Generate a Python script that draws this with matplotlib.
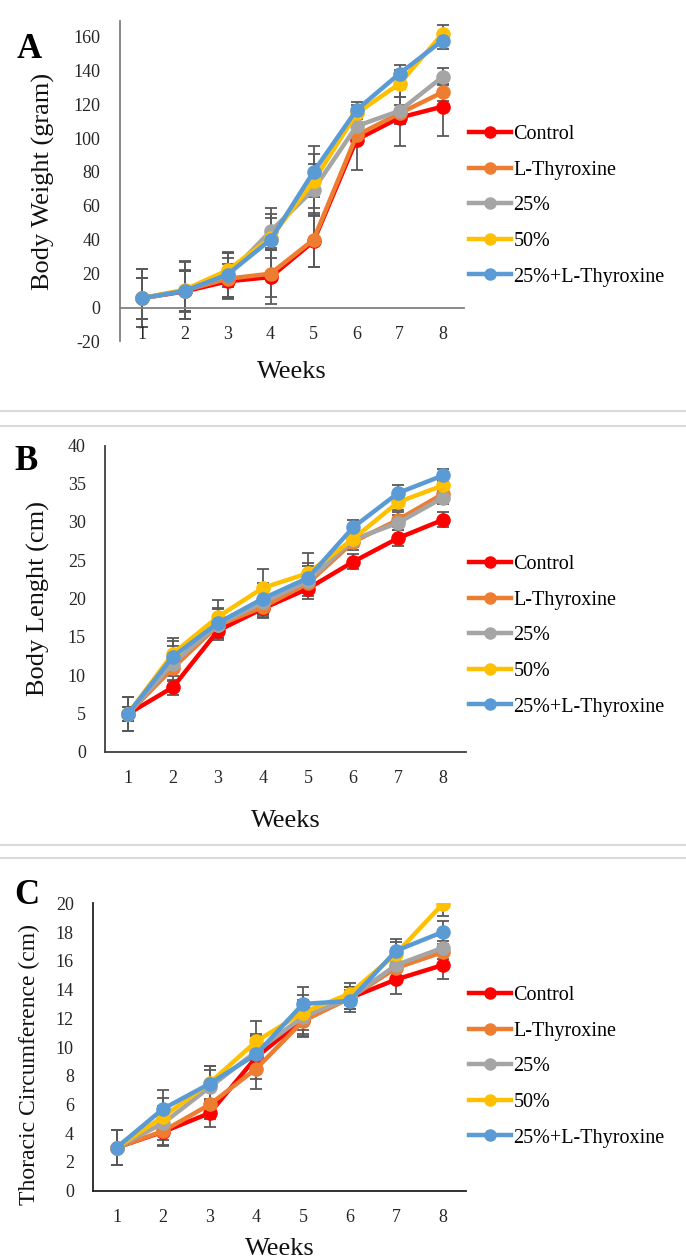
import matplotlib
matplotlib.use("Agg")
import matplotlib.pyplot as plt
from matplotlib.lines import Line2D

plt.rcParams["font.family"] = ["Liberation Serif", "DejaVu Serif"]
plt.rcParams["axes.unicode_minus"] = False

weeks = [1, 2, 3, 4, 5, 6, 7, 8]
groups = ["Control", "L-Thyroxine", "25%", "50%", "25%+L-Thyroxine"]
colors = ["#FF0000", "#ED7D31", "#A5A5A5", "#FFC000", "#5B9BD5"]

# A - peso corporal (g)
weight_control = [5.5, 9.5, 15.5, 18, 39, 99, 112, 118.5]
weight_lthyrox = [5.5, 10, 17, 20, 40, 101.5, 114.5, 127]
weight_25 = [5.5, 10, 19, 45, 69.5, 107, 116, 136]
weight_50 = [5.5, 10.5, 22, 41, 74.5, 114.5, 132, 161.5]
weight_25_lthyrox = [5.5, 9.8, 19.5, 40, 80, 116.5, 138, 157.5]
weight_err_control = [12, 12, 10, 16, 15, 18, 17, 17.5]
weight_err_lthyrox = [12, 12, 12, 14, 16, 5, 5, 5]
weight_err_25 = [17, 17, 13, 10, 15, 5, 8, 5]
weight_err_50 = [17, 17, 10, 12, 16, 5, 8, 5]
weight_err_25_lthyrox = [12, 12, 13, 19, 15, 5, 5, 5]

# B - longitud corporal (cm)
length_control = [4.9, 8.4, 15.8, 18.7, 21.3, 24.8, 27.9, 30.3]
length_lthyrox = [4.9, 10.9, 16.5, 18.9, 22.0, 27.4, 30.3, 33.7]
length_25 = [4.9, 11.5, 16.6, 19.5, 22.3, 27.7, 29.9, 33.2]
length_50 = [4.9, 12.8, 17.6, 21.4, 23.3, 27.8, 32.6, 34.8]
length_25_lthyrox = [4.9, 12.4, 16.8, 20.0, 22.7, 29.3, 33.8, 36.1]
length_err_control = [0.9, 1.0, 1.0, 1.1, 1.3, 1.0, 1.0, 1.0]
length_err_lthyrox = [0.9, 1.0, 1.0, 1.0, 1.0, 1.0, 1.0, 1.0]
length_err_25 = [2.2, 2.3, 2.0, 2.0, 2.0, 1.0, 1.0, 0.8]
length_err_50 = [2.2, 2.1, 2.2, 2.4, 2.6, 1.0, 1.0, 0.8]
length_err_25_lthyrox = [2.2, 2.0, 2.0, 2.0, 2.0, 1.0, 1.0, 0.8]

# C - circunferencia toracica (cm)
thorax_control = [3.0, 4.1, 5.4, 9.3, 11.9, 13.4, 14.7, 15.7]
thorax_lthyrox = [3.0, 4.15, 6.0, 8.5, 11.8, 13.4, 15.5, 16.6]
thorax_25 = [3.0, 4.7, 7.2, 9.7, 12.1, 13.4, 15.7, 16.9]
thorax_50 = [3.0, 5.15, 7.5, 10.4, 12.4, 13.7, 16.5, 19.95]
thorax_25_lthyrox = [3.0, 5.7, 7.45, 9.5, 13.0, 13.2, 16.7, 18.0]
thorax_err_control = [1.2, 1.0, 1.0, 1.5, 1.1, 0.75, 1.0, 1.0]
thorax_err_lthyrox = [1.2, 1.0, 1.0, 1.4, 1.1, 0.75, 0.8, 0.8]
thorax_err_25 = [1.2, 1.2, 1.2, 1.2, 1.2, 0.75, 0.8, 0.8]
thorax_err_50 = [1.2, 1.3, 1.2, 1.4, 1.2, 0.75, 0.8, 0.8]
thorax_err_25_lthyrox = [1.2, 1.3, 1.2, 1.3, 1.2, 0.75, 0.8, 0.8]

W, H = 686, 1260
fig = plt.figure(figsize=(W / 100, H / 100), dpi=100)


def px_axes(left, right, top, bottom):
    """Convierte un rectangulo en pixeles a coordenadas de figura."""
    return [left / W, 1 - bottom / H, (right - left) / W, (bottom - top) / H]


def panel(rect, series, errors, ylim, yticks, ylabel, ylabel_size, letter,
          letter_xy, ylabel_xy, weeks_y, legend_top, spine_color, zero_axis=False):
    ax = fig.add_axes(px_axes(*rect))
    for vals, err in zip(series, errors):
        ax.errorbar(weeks, vals, yerr=err, fmt="none", ecolor="#595959",
                    elinewidth=1.3, capsize=4, capthick=1.3, zorder=1)
    for vals, col, name in zip(series, colors, groups):
        ax.plot(weeks, vals, color=col, lw=3.2, marker="o", ms=9.5,
                label=name, zorder=3)

    ax.set_xlim(0.5, 8.5)
    ax.set_ylim(*ylim)
    ax.set_xticks(weeks)
    ax.set_yticks(yticks)
    ax.tick_params(length=0, labelsize=13, colors="#262626")
    ax.tick_params(axis="y", pad=14)
    ax.tick_params(axis="x", pad=13)
    for s in ["top", "right"]:
        ax.spines[s].set_visible(False)
    for s in ["left", "bottom"]:
        ax.spines[s].set_color(spine_color)
        ax.spines[s].set_linewidth(1.3)
    if zero_axis:
        ax.spines["bottom"].set_position(("data", 0))

    ax.set_ylabel(ylabel, fontsize=ylabel_size, color="#111111")
    ax.yaxis.set_label_coords(*ylabel_xy)
    fig.text(((rect[0] + rect[1]) / 2) / W, 1 - weeks_y / H, "Weeks",
             fontsize=19, ha="center", va="center", color="#111111")
    fig.text(letter_xy[0] / W, 1 - letter_xy[1] / H, letter, fontsize=25,
             fontweight="bold", ha="center", va="center")

    handles = [Line2D([], [], color=c, lw=3.2, marker="o", ms=8) for c in colors]
    fig.legend(handles, groups, loc="upper left",
               bbox_to_anchor=(469 / W, 1 - legend_top / H), frameon=False,
               fontsize=14.5, handlelength=2.1, handletextpad=0.1,
               labelspacing=0.82, borderpad=0, borderaxespad=0)
    return ax


panel((120, 464, 21, 341.5),
      [weight_control, weight_lthyrox, weight_25, weight_50, weight_25_lthyrox],
      [weight_err_control, weight_err_lthyrox, weight_err_25, weight_err_50,
       weight_err_25_lthyrox],
      (-20, 169), list(range(-20, 161, 20)), "Body Weight (gram)", 19,
      "A", (29, 49), (-0.19, 0.5), 372, 125, "#808080", zero_axis=True)

panel((105.3, 465.8, 445.5, 751.5),
      [length_control, length_lthyrox, length_25, length_50, length_25_lthyrox],
      [length_err_control, length_err_lthyrox, length_err_25, length_err_50,
       length_err_25_lthyrox],
      (0, 40), list(range(0, 41, 5)), "Body Lenght (cm)", 19,
      "B", (26, 461), (-0.153, 0.5), 821, 555, "#404040")

panel((93.3, 466, 903.3, 1190.7),
      [thorax_control, thorax_lthyrox, thorax_25, thorax_50, thorax_25_lthyrox],
      [thorax_err_control, thorax_err_lthyrox, thorax_err_25, thorax_err_50,
       thorax_err_25_lthyrox],
      (0, 20), list(range(0, 21, 2)), "Thoracic Circumference (cm)", 17,
      "C", (27, 895), (-0.143, 0.44), 1249, 986, "#222222")

# lineas grises que separan los paneles
for y in [411.5, 426, 845, 857.5]:
    fig.add_artist(Line2D([0, 1], [1 - y / H, 1 - y / H], color="#DADADA", lw=1.5))

fig.savefig("out.png", dpi=100)
